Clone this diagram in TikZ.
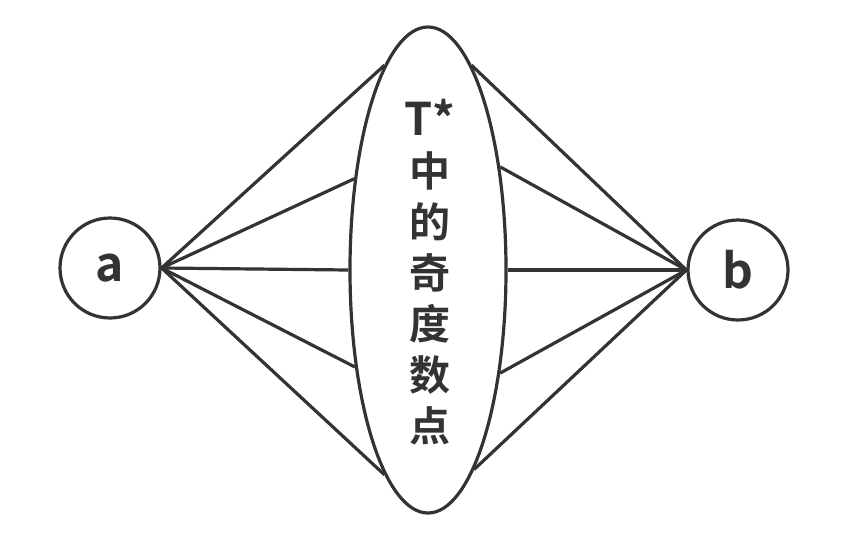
\documentclass[tikz,border=0pt]{standalone}
\usepackage{fontspec}
\usepackage{xcolor}
\usetikzlibrary{shapes.geometric}
\setmainfont{Noto Sans CJK SC}[BoldFont={Noto Sans CJK SC Bold}]
\definecolor{mygray}{HTML}{333333}
\def\leftangles{102, 129, 180, 233, 258}
\def\rightangles{78, 55, 0, 305, 283}

\begin{document}
\begin{tikzpicture}[x=1pt, y=-1pt, line width=3.2pt, draw=mygray, text=mygray]
    \useasboundingbox (0, 0) rectangle (856, 536);
    \tikzset{vertex/.style={circle, draw, minimum size=100pt, inner sep=0pt,
        font=\fontsize{48}{48}\selectfont\bfseries}}
    \node[vertex] (a) at (110, 268) {a};
    \node[vertex] (b) at (738, 270) {b};
    \node[ellipse, draw, minimum width=156pt, minimum height=486pt, inner sep=0pt] (odd) at (428, 270) {};
    \node[align=center, inner sep=0pt, font=\fontsize{41}{51}\selectfont\bfseries] (label) at (430, 272)
        {{\fontsize{45}{51}\selectfont T*}\\中\\的\\奇\\度\\数\\点};
    \foreach \ang in \leftangles {
      \draw (a.east) -- (odd.\ang);
    }
    \foreach \ang in \rightangles {
      \draw (b.west) -- (odd.\ang);
    }
  \end{tikzpicture}
\end{document}
